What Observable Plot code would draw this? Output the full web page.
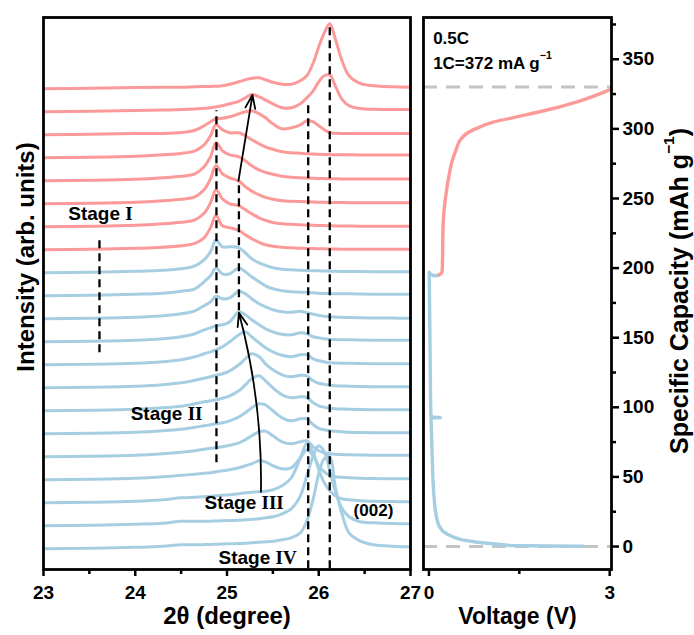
<!DOCTYPE html>
<html>
<head>
<meta charset="utf-8">
<script src="https://cdn.jsdelivr.net/npm/d3@7"></script>
<script src="https://cdn.jsdelivr.net/npm/@observablehq/plot@0.6"></script>
<style>
  html, body { margin: 0; padding: 0; background: #fff; }
  #figure { position: relative; width: 694px; height: 635px; }
  #figure svg { position: absolute; top: 0; overflow: visible; }
</style>
</head>
<body>
<div id="figure"></div>
<script>
// ---- In-situ XRD: 2θ sampling positions (degree) ----
const twoTheta = [23.0, 23.5, 24.0, 24.3, 24.5, 24.65, 24.75, 24.82, 24.88, 24.95, 25.03, 25.13,
  25.2, 25.27, 25.35, 25.42, 25.5, 25.6, 25.7, 25.8, 25.87, 25.94, 26.0, 26.06, 26.12, 26.18,
  26.25, 26.33, 26.45, 26.6, 26.8, 27.0];

// Discharge (lithiation) scans, first to last, intensity above each scan's own baseline (a.u.)
const dischargeScans = [
  [0, 0.5, 1.5, 2.5, 4, 4, 4.2, 4.4, 4.6, 4.8, 5, 5.2, 5.5, 6, 6.5, 7, 7.5, 9, 11, 16, 28, 50, 75, 90, 92, 62, 36, 16, 8, 4, 2.5, 2],
  [0, 0.5, 1.5, 2.5, 4.5, 4.5, 4.5, 4.6, 4.8, 5, 5.2, 5.5, 6, 6.5, 7, 8, 9, 12, 17, 30, 50, 70, 80, 74, 55, 35, 18, 9, 4, 3, 2.2, 2],
  [0, 0.5, 1.5, 3, 5, 5.5, 6, 6.5, 7, 7.5, 8, 9, 10, 10.5, 11, 11.5, 13, 17, 25, 45, 59, 50, 33, 20, 12, 7, 4, 3, 2, 1.5, 1.2, 1],
  [0, 0.5, 1.5, 3, 4.5, 5.5, 6.5, 7, 8, 9, 10, 12, 14, 16, 19, 18, 14, 11, 12, 22, 30, 24, 14, 8, 4.5, 3, 2.5, 2, 1.5, 1.2, 1, 1],
  [0, 0.5, 1.5, 3, 4.5, 6, 7.5, 8.5, 9, 10, 11.5, 14, 17, 21, 25, 25.7, 21, 15, 13, 15, 16, 10, 6, 4, 3, 2.5, 2.2, 2, 1.8, 1.6, 1.5, 1.5],
  [0, 0.5, 1.5, 3, 4.5, 6.5, 8, 9, 10, 11, 13, 17, 21, 26, 30, 29, 23, 16, 13, 15, 15, 9, 5.5, 4, 3, 2.5, 2, 1.5, 1.2, 1, 1, 1],
  [0, 0.5, 1.5, 3, 4.5, 7, 9, 10, 11, 12.5, 15, 20, 26, 32, 35, 30, 23, 16, 13, 14, 13.5, 8, 5, 3.5, 2.5, 2, 1.8, 1.5, 1.2, 1, 1, 1],
  [0, 0.5, 1.5, 3, 5, 7.5, 9.5, 11, 12.5, 14, 17, 23, 29, 34, 31, 24, 18, 13, 11, 12.5, 12, 7, 4.5, 3.5, 2.5, 2, 1.8, 1.5, 1.2, 1, 1, 1],
  [0, 0.5, 1.5, 3, 5, 8, 11, 13, 15, 18, 23, 30, 33, 28, 22, 17, 13, 9.5, 8, 10, 10, 6, 4, 3, 2, 1.8, 1.6, 1.5, 1.2, 1, 1, 1],
  [0, 0.5, 1.5, 3, 5, 8, 12, 14, 16, 17, 20, 30, 27, 22, 17, 13, 10, 7.5, 7, 9, 8, 5, 4, 3, 2.5, 2.2, 2, 2, 1.8, 1.6, 1.5, 1.5],
  [0, 0.5, 1.5, 3, 5, 8, 13, 17, 22.5, 20, 21, 27.5, 25, 20, 15, 12, 9, 7, 6.5, 7.5, 6, 4.5, 3.5, 2.5, 2, 1.7, 1.5, 1.2, 1, 0.8, 0.7, 0.6],
  [0, 0.5, 1.5, 2.5, 4.5, 7, 14, 20, 27.7, 22, 22, 27.7, 24, 19, 14, 10, 7, 5, 4, 3.5, 3.5, 3, 2.5, 2.3, 2.2, 2.1, 2, 2, 1.8, 1.6, 1.5, 1.5],
  [0, 0.5, 1.5, 2.5, 4, 7, 13, 21, 32.7, 26, 26, 25, 20, 14, 10, 7.5, 5, 3.5, 3, 2.5, 2.2, 2, 2, 1.8, 1.6, 1.5, 1.4, 1.3, 1.2, 1.1, 1, 1]
];

// Charge (delithiation) scans, first to last
const chargeScans = [
  [0, 0.5, 1.5, 2.5, 4, 6.5, 12, 22, 34.3, 24, 22, 19.3, 15, 11, 7.5, 5, 3.5, 2.5, 2, 1.5, 1.3, 1.2, 1, 1, 0.8, 0.7, 0.6, 0.5, 0.5, 0.5, 0.5, 0.5],
  [0, 0.5, 1.5, 3, 4.5, 7, 13.5, 24, 36.7, 28, 23, 21, 17, 13, 9, 6.5, 4.3, 3, 2.5, 2, 1.8, 1.5, 1.3, 1.2, 1, 0.9, 0.8, 0.7, 0.6, 0.5, 0.5, 0.5],
  [0, 0.5, 1.5, 3, 4.5, 7, 14, 25, 38.4, 30, 26, 22.7, 17, 12.7, 9, 6.5, 4.5, 3, 2.5, 2.2, 2, 1.8, 1.6, 1.5, 1.4, 1.3, 1.2, 1.1, 1, 1, 1, 1],
  [0, 0.5, 1.5, 3, 4.5, 7, 14, 24, 38, 30, 26, 24, 20, 15, 11, 8.5, 6.5, 4.5, 3.5, 3, 2.8, 2.5, 2.3, 2.2, 2, 2, 1.9, 1.8, 1.8, 1.7, 1.7, 1.7],
  [0, 0.5, 1.5, 3, 4.4, 7, 13, 22, 33, 28, 25, 25, 22, 18, 14, 11, 8.5, 6, 5, 4.5, 4, 3.8, 3.5, 3.3, 3.2, 3, 3, 3, 2.8, 2.7, 2.7, 2.7],
  [0, 0.5, 1.3, 1.3, 2.2, 4.5, 9, 13, 16, 16.5, 18, 21, 23, 24, 21, 17, 11, 6, 7, 10, 14, 13, 9, 5, 2, 1.5, 1.3, 1.3, 1.3, 1.3, 1.3, 1.3],
  [0, 0.5, 1.3, 1.8, 2.2, 2.8, 3.5, 4, 5, 6, 8, 10.5, 14, 17.4, 15, 11.7, 8, 4, 4, 8, 14, 21, 30, 36, 37, 26, 13, 6, 3.4, 2.5, 2.4, 2.4],
  [0, 0.5, 1.2, 1.5, 1.6, 2, 2.2, 2.4, 2.6, 3, 4.5, 7, 9, 10.5, 11, 9, 6.5, 4.5, 4.5, 8, 13, 26, 42, 56, 65, 50, 29, 13, 5.5, 3, 2, 1.6]
];

// Reference peak positions (degree) marked with dashed guides
const guideTheta = [23.61, 24.885, 25.13, 25.885, 26.12];

// Stage annotations
const stageLabels = ["Stage I", "Stage II", "Stage III", "Stage IV"];

// ---- Galvanostatic curve: voltage (V) vs specific capacity (mAh g^-1) ----
const dischargeVoltage = [2.57, 2.0, 1.35, 0.8, 0.55, 0.41, 0.3, 0.22, 0.16, 0.125, 0.1, 0.08, 0.065, 0.053,
  0.043, 0.036, 0.034, 0.19, 0.034, 0.03, 0.024, 0.018, 0.012, 0.008, 0.005, 0.006, 0.03, 0.08, 0.14];
const dischargeCapacity = [0.2, 0.35, 0.7, 3.1, 4.8, 6.7, 9, 11.5, 15.5, 21, 28, 38, 50, 66.6,
  80, 90.5, 92.3, 92.6, 93, 100, 120, 145, 170, 185, 193, 197, 195.5, 194.5, 194.8];
const chargeVoltage = [0.165, 0.2, 0.22, 0.225, 0.23, 0.24, 0.26, 0.3, 0.34, 0.385, 0.45, 0.52, 0.62,
  0.8, 1.08, 1.5, 1.91, 2.5, 3.0];
const chargeCapacity = [195, 196, 198, 205, 220, 235, 245, 258, 268, 277, 285, 292, 296.5,
  300.5, 305, 309, 313, 320, 328];
const capacityLimits = [0, 330];

const BLUE = "#a6cee3";
const RED = "#fb9a99";
const FONT = "'Liberation Sans', Arial, Helvetica, sans-serif";
const STEP = 23; // vertical offset between successive scans

// Long table of scans, stacked bottom (first discharge scan) to top (last charge scan)
const scanRows = [];
dischargeScans.forEach((scan, i) => scan.forEach((v, j) =>
  scanRows.push({phase: "discharge", scan: i, t: twoTheta[j], y: i * STEP + v})));
chargeScans.forEach((scan, k) => scan.forEach((v, j) =>
  scanRows.push({phase: "charge", scan: dischargeScans.length + k, t: twoTheta[j],
                 y: (dischargeScans.length + k) * STEP + v})));

const guides = [
  {t: guideTheta[0], y1: 196, y2: 311},
  {t: guideTheta[1], y1: 86, y2: 438},
  {t: guideTheta[2], y1: 238, y2: 368},
  {t: guideTheta[3], y1: -20, y2: 445},
  {t: guideTheta[4], y1: -20, y2: 526}
];
const stageText = [
  {label: stageLabels[0], t: 23.27, y: 335},
  {label: stageLabels[1], t: 23.95, y: 135},
  {label: stageLabels[2], t: 24.755, y: 46},
  {label: stageLabels[3], t: 24.907, y: -9}
];

const baseStyle = {fontFamily: FONT, fontSize: "19px", fontWeight: "bold", overflow: "visible", background: "transparent"};

const xrd = Plot.plot({
  width: 416, height: 635,
  marginLeft: 43, marginRight: 6, marginTop: 17, marginBottom: 66,
  style: baseStyle,
  x: {domain: [23, 27]},
  y: {domain: [-20.7, 531.3], axis: null},
  marks: [
    Plot.line(scanRows.filter(d => d.phase === "discharge"),
      {x: "t", y: "y", z: "scan", stroke: BLUE, strokeWidth: 3, curve: "catmull-rom"}),
    Plot.line(scanRows.filter(d => d.phase === "charge"),
      {x: "t", y: "y", z: "scan", stroke: RED, strokeWidth: 3, curve: "catmull-rom"}),
    Plot.ruleX(guides, {x: "t", y1: "y1", y2: "y2", stroke: "black", strokeWidth: 2.3, strokeDasharray: "8,5"}),
    Plot.arrow([{x1: 25.125, y1: 368, x2: 25.278, y2: 454}],
      {x1: "x1", y1: "y1", x2: "x2", y2: "y2", stroke: "black", strokeWidth: 1.8, headLength: 12, headAngle: 40}),
    Plot.arrow([{x1: 25.37, y1: 57, x2: 25.13, y2: 236}],
      {x1: "x1", y1: "y1", x2: "x2", y2: "y2", bend: -8, stroke: "black", strokeWidth: 1.8, headLength: 12, headAngle: 40}),
    Plot.text(stageText, {x: "t", y: "y", text: "label", textAnchor: "start", fontSize: 19, fill: "black"}),
    Plot.text(["(002)"], {x: 26.38, y: 38, textAnchor: "start", fontSize: 17, fill: "black"}),
    Plot.axisX([23, 24, 25, 26, 27], {anchor: "bottom", tickSize: 7, tickPadding: 9, strokeWidth: 2.5, fontSize: 19, label: null}),
    Plot.axisX([23.5, 24.5, 25.5, 26.5], {anchor: "bottom", tickSize: 5, strokeWidth: 2.5, tickFormat: () => "", label: null}),
    Plot.frame({stroke: "black", strokeWidth: 2.8}),
    Plot.text(["2θ (degree)"], {frameAnchor: "bottom", dy: 54, fontSize: 24, fill: "black"}),
    Plot.text(["Intensity (arb. units)"], {frameAnchor: "left", textAnchor: "middle", dx: -17, dy: -36.5, rotate: -90, fontSize: 24, fill: "black"})
  ]
});

const galvano = Plot.plot({
  width: 282, height: 635,
  marginLeft: 11, marginRight: 83, marginTop: 17, marginBottom: 66,
  style: baseStyle,
  x: {domain: [-0.09, 3.03]},
  y: {domain: [-16.5, 380]},
  marks: [
    Plot.ruleY(capacityLimits, {stroke: "#c4c4c4", strokeWidth: 3, strokeDasharray: "14,9"}),
    Plot.line(dischargeVoltage.map((v, i) => ({v, c: dischargeCapacity[i]})),
      {x: "v", y: "c", stroke: BLUE, strokeWidth: 3.4, strokeLinejoin: "round", strokeLinecap: "round"}),
    Plot.line(chargeVoltage.map((v, i) => ({v, c: chargeCapacity[i]})),
      {x: "v", y: "c", stroke: RED, strokeWidth: 3.4, curve: "monotone-y", strokeLinejoin: "round", strokeLinecap: "round"}),
    Plot.text(["0.5C"], {x: 0.07, y: 365, textAnchor: "start", fontSize: 17, fill: "black"}),
    Plot.text(["1C=372 mA g^-1"], {x: 0.07, y: 347, textAnchor: "start", fontSize: 17, fill: "black"}),
    Plot.axisY(d3.range(0, 351, 50), {anchor: "right", tickSize: 7, tickPadding: 4, strokeWidth: 2.5, fontSize: 19, label: null}),
    Plot.axisY(d3.range(25, 376, 50), {anchor: "right", tickSize: 4, strokeWidth: 2.5, tickFormat: () => "", label: null}),
    Plot.axisX([0, 3], {anchor: "bottom", tickSize: 7, tickPadding: 9, strokeWidth: 2.5, fontSize: 19, label: null}),
    Plot.axisX([1.5], {anchor: "bottom", tickSize: 5, strokeWidth: 2.5, tickFormat: () => "", label: null}),
    Plot.frame({stroke: "black", strokeWidth: 2.8}),
    Plot.text(["Voltage (V)"], {frameAnchor: "bottom", dy: 54, fontSize: 23, fill: "black"}),
    Plot.text(["Specific Capacity (mAh g^-1)"], {frameAnchor: "right", textAnchor: "middle", dx: 68, dy: -2.5, rotate: -90, fontSize: 25, fill: "black"})
  ]
});

// Serif Roman numerals in the stage labels and raised "-1" exponents
function richText(svg) {
  const ns = "http://www.w3.org/2000/svg";
  svg.querySelectorAll("text").forEach(el => {
    if (el.querySelector("tspan")) return;
    const s = el.textContent;
    const m = s.match(/^(Stage )([IV]+)$/);
    if (m) {
      el.textContent = m[1];
      const num = document.createElementNS(ns, "tspan");
      num.setAttribute("font-family", "'Liberation Serif', 'Times New Roman', serif");
      num.textContent = m[2];
      el.appendChild(num);
    } else if (s.includes("^-1")) {
      const [a, b] = s.split("^-1");
      el.textContent = a;
      const sup = document.createElementNS(ns, "tspan");
      sup.setAttribute("font-size", "0.62em");
      sup.setAttribute("dy", "-0.9em");
      sup.textContent = "\u22121";
      el.appendChild(sup);
      if (b) {
        const rest = document.createElementNS(ns, "tspan");
        rest.setAttribute("dy", "0.56em");
        rest.textContent = b;
        el.appendChild(rest);
      }
    }
  });
}
richText(xrd);
richText(galvano);

xrd.style.left = "0px";
galvano.style.left = "412px";
const fig = document.getElementById("figure");
fig.appendChild(xrd);
fig.appendChild(galvano);
</script>
</body>
</html>
